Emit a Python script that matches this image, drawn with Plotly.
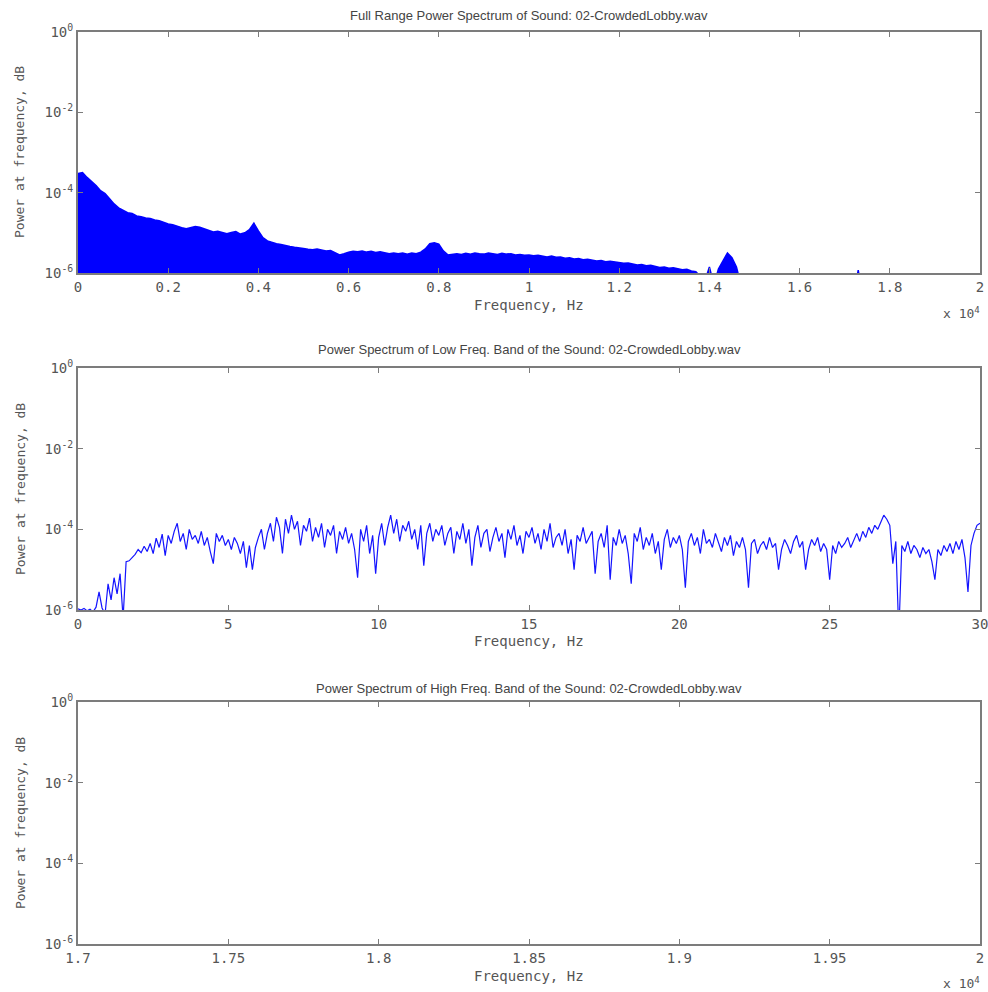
import plotly.graph_objects as go
from plotly.subplots import make_subplots

# ---------------- data ----------------
# Full-range spectrum envelope: frequency (Hz) every 100 Hz, log10 of power
full_freq_hz = [i * 100 for i in range(201)]
full_log10_power = [
    -3.52, -3.50, -3.62, -3.72, -3.82, -3.95, -4.02, -4.15, -4.28, -4.38,
    -4.45, -4.50, -4.52, -4.58, -4.60, -4.63, -4.64, -4.68, -4.70, -4.74,
    -4.78, -4.80, -4.84, -4.87, -4.90, -4.87, -4.84, -4.86, -4.90, -4.94,
    -4.98, -4.96, -4.99, -5.02, -4.99, -4.97, -5.03, -5.00, -4.92, -4.76,
    -4.95, -5.12, -5.20, -5.24, -5.27, -5.29, -5.32, -5.34, -5.36, -5.37,
    -5.39, -5.41, -5.42, -5.40, -5.43, -5.45, -5.44, -5.50, -5.55, -5.52,
    -5.48, -5.46, -5.47, -5.45, -5.48, -5.46, -5.49, -5.47, -5.50, -5.52,
    -5.50, -5.52, -5.50, -5.53, -5.50, -5.52, -5.48, -5.40, -5.27, -5.25,
    -5.28, -5.45, -5.55, -5.53, -5.52, -5.54, -5.51, -5.53, -5.50, -5.52,
    -5.53, -5.50, -5.52, -5.54, -5.51, -5.53, -5.52, -5.55, -5.54, -5.56,
    -5.55, -5.57, -5.56, -5.58, -5.60, -5.58, -5.61, -5.60, -5.63, -5.62,
    -5.65, -5.64, -5.67, -5.66, -5.68, -5.70, -5.69, -5.72, -5.71, -5.73,
    -5.74, -5.76, -5.75, -5.78, -5.80, -5.79, -5.82, -5.81, -5.84, -5.86,
    -5.85, -5.88, -5.87, -5.90, -5.92, -5.91, -5.95, -5.97, -6.10, -6.20,
    -5.85, -6.30, -5.90, -5.70, -5.50, -5.62, -5.85, -6.30, -6.50, -6.60,
    -6.60, -6.60, -6.60, -6.60, -6.60, -6.60, -6.60, -6.60, -6.60, -6.60,
    -6.60, -6.60, -6.60, -6.60, -6.60, -6.60, -6.60, -6.60, -6.60, -6.60,
    -6.60, -6.60, -6.60, -5.93, -6.60, -6.60, -6.60, -6.60, -6.60, -6.60,
    -6.60, -6.60, -6.60, -6.60, -6.60, -6.60, -6.60, -6.60, -6.60, -6.60,
    -6.60, -6.60, -6.60, -6.60, -6.60, -6.60, -6.60, -6.60, -6.60, -6.60,
    -6.60,
]

# Low-frequency band: frequency (Hz) every 0.1 Hz, log10 of power
low_freq_hz = [i / 10 for i in range(301)]
low_log10_power = [
    -5.97, -6.00, -5.96, -6.02, -5.98, -6.05, -5.93, -5.55, -5.95, -6.10,
    -5.35, -5.75, -5.20, -5.60, -5.10, -6.20, -4.80, -4.78, -4.70, -4.62,
    -4.50, -4.58, -4.42, -4.55, -4.35, -4.60, -4.22, -4.45, -4.12, -4.65,
    -4.15, -4.35, -4.05, -3.85, -4.30, -4.10, -4.50, -4.00, -4.25, -4.15,
    -4.35, -4.05, -4.40, -4.20, -4.55, -4.85, -4.10, -4.30, -4.15, -4.40,
    -4.25, -4.50, -4.20, -4.35, -4.60, -4.30, -4.95, -4.40, -5.00, -4.45,
    -4.20, -4.00, -4.50, -4.10, -3.85, -4.30, -3.70, -3.95, -4.60, -3.75,
    -4.10, -3.65, -4.00, -3.80, -4.40, -3.90, -4.05, -3.72, -4.30, -3.95,
    -4.20, -3.85, -4.45, -4.00, -4.15, -3.90, -4.60, -4.05, -4.25, -3.95,
    -4.35, -4.10, -4.50, -5.20, -4.00, -4.30, -3.90, -4.60, -4.15, -5.10,
    -4.20, -3.85, -4.40, -3.95, -3.65, -4.10, -3.75, -4.30, -3.90, -4.05,
    -3.80, -4.25, -4.00, -4.50, -3.90, -4.90, -4.10, -3.85, -4.30, -4.00,
    -4.15, -3.90, -4.40, -4.10, -3.95, -4.60, -4.05, -4.25, -3.85, -4.35,
    -4.00, -4.90, -4.20, -3.90, -4.45, -4.10, -4.00, -4.55, -4.20, -3.95,
    -4.30, -4.10, -4.70, -4.00, -4.25, -3.90, -4.40, -4.15, -4.60, -4.05,
    -4.20, -3.95, -4.35, -4.10, -4.50, -4.00, -4.30, -3.85, -4.45, -4.20,
    -4.10, -4.40, -4.00, -4.60, -4.25, -5.00, -4.15, -4.30, -3.95, -4.35,
    -4.20, -4.05, -5.10, -4.30, -4.10, -4.45, -3.90, -5.25, -4.20, -4.40,
    -4.00, -4.35, -4.15, -4.60, -5.35, -4.10, -4.30, -3.95, -4.50, -4.20,
    -4.40, -4.10, -4.60, -4.30, -5.00, -4.25, -4.00, -4.45, -4.20, -4.35,
    -4.15, -4.50, -5.45, -4.30, -4.10, -4.40, -4.20, -4.60, -4.00, -4.35,
    -4.25, -4.45, -4.10, -4.35, -4.55, -4.20, -4.40, -4.15, -4.65, -4.30,
    -4.45, -4.20, -4.50, -5.45, -4.35, -4.25, -4.60, -4.40, -4.30, -4.50,
    -4.20, -4.45, -4.35, -5.00, -4.50, -4.25, -4.40, -4.60, -4.30, -4.15,
    -4.45, -4.30, -5.00, -4.50, -4.25, -4.40, -4.20, -4.55, -4.35, -4.50,
    -5.25, -4.40, -4.60, -4.30, -4.45, -4.35, -4.20, -4.45, -4.25, -4.10,
    -4.30, -4.05, -4.20, -3.95, -4.10, -3.90, -4.00, -3.80, -3.65, -3.75,
    -3.90, -4.85, -4.30, -6.60, -4.40, -4.55, -4.30, -4.60, -4.40, -4.50,
    -4.70, -4.45, -4.60, -4.50, -4.80, -5.25, -4.50, -4.65, -4.40, -4.55,
    -4.35, -4.60, -4.30, -4.50, -4.25, -4.70, -5.55, -4.40, -4.10, -3.90,
    -3.85,
]

full_power = [10 ** v for v in full_log10_power]
low_power = [10 ** v for v in low_log10_power]

y_tick_vals = [1e-6, 1e-4, 1e-2, 1]
y_tick_text = ["10<sup>-6</sup>", "10<sup>-4</sup>", "10<sup>-2</sup>", "10<sup>0</sup>"]

top_x_ticks = [0, 2000, 4000, 6000, 8000, 10000, 12000, 14000, 16000, 18000, 20000]
top_x_text = ["0", "0.2", "0.4", "0.6", "0.8", "1", "1.2", "1.4", "1.6", "1.8", "2"]
mid_x_ticks = [0, 5, 10, 15, 20, 25, 30]
bot_x_ticks = [17000, 17500, 18000, 18500, 19000, 19500, 20000]
bot_x_text = ["1.7", "1.75", "1.8", "1.85", "1.9", "1.95", "2"]

titles = [
    "Full Range Power Spectrum of Sound: 02-CrowdedLobby.wav",
    "Power Spectrum of Low Freq. Band of the Sound: 02-CrowdedLobby.wav",
    "Power Spectrum of High Freq. Band of the Sound: 02-CrowdedLobby.wav",
]

# ---------------- figure ----------------
W, H = 988, 992
PLOT_L, PLOT_R = 78, 980          # reference pixel positions of plot edges
L = PLOT_L
R = W - PLOT_R
PW = W - L - R

def py(px):
    return 1 - px / H

def pxx(px):
    return (px - PLOT_L) / PW

fig = make_subplots(rows=3, cols=1)

fig.add_trace(go.Scatter(x=full_freq_hz, y=full_power, mode="lines",
                         fill="tozeroy", fillcolor="#0000ff",
                         line=dict(color="#0000ff", width=1.5),
                         showlegend=False), row=1, col=1)
fig.add_trace(go.Scatter(x=low_freq_hz, y=low_power, mode="lines",
                         line=dict(color="#1414ff", width=1.2),
                         showlegend=False), row=2, col=1)
fig.add_trace(go.Scatter(x=[], y=[], mode="lines", showlegend=False), row=3, col=1)

axis_col = "#7c7c7c"
txt_col = "#555555"
mono = "DejaVu Sans Mono"
common = dict(showline=True, linecolor=axis_col, linewidth=2, mirror="ticks",
              ticks="inside", ticklen=5, tickcolor=axis_col, tickwidth=1,
              showgrid=False, zeroline=False, automargin=False,
              tickfont=dict(family=mono, size=14, color=txt_col))

domains = [(32, 273), (368, 610), (702, 944)]
for i, (t, b) in enumerate(domains, start=1):
    fig.update_yaxes(type="log", range=[-6, 0], tickvals=y_tick_vals,
                     ticktext=y_tick_text, domain=[py(b), py(t)],
                     row=i, col=1, **common)

xcommon = dict(common, ticklabeloverflow="allow")
fig.update_xaxes(range=[0, 20000], tickvals=top_x_ticks, ticktext=top_x_text,
                 row=1, col=1, **xcommon)
fig.update_xaxes(range=[0, 30], tickvals=mid_x_ticks, row=2, col=1, **xcommon)
fig.update_xaxes(range=[17000, 20000], tickvals=bot_x_ticks, ticktext=bot_x_text,
                 row=3, col=1, **xcommon)

annotations = []
title_y = [15, 350, 688]
xlabel_y = [305, 641, 976]
ylabel_y = [152, 489, 823]
for i in range(3):
    annotations.append(dict(text=titles[i], x=0.5, y=py(title_y[i]), xref="paper",
                            yref="paper", showarrow=False, xanchor="center",
                            yanchor="middle",
                            font=dict(family="Liberation Sans", size=13, color="#444444")))
    annotations.append(dict(text="Frequency, Hz", x=0.5, y=py(xlabel_y[i]), xref="paper",
                            yref="paper", showarrow=False, xanchor="center",
                            yanchor="middle",
                            font=dict(family=mono, size=14, color=txt_col)))
    annotations.append(dict(text="Power at frequency, dB", x=pxx(20), y=py(ylabel_y[i]),
                            xref="paper", yref="paper", showarrow=False,
                            textangle=-90, xanchor="center", yanchor="middle",
                            font=dict(family=mono, size=13, color=txt_col)))
for yy in (313, 983):
    annotations.append(dict(text="x 10<sup>4</sup>", x=pxx(982), y=py(yy), xref="paper",
                            yref="paper", showarrow=False, xanchor="right",
                            yanchor="middle",
                            font=dict(family=mono, size=13, color=txt_col)))

fig.update_layout(width=W, height=H, margin=dict(l=L, r=R, t=0, b=0),
                  plot_bgcolor="white", paper_bgcolor="white",
                  annotations=annotations)

fig.write_html("out.html", config={"displayModeBar": False},
               post_script="document.body.style.margin='0';"
                           "document.body.style.overflow='hidden';")
